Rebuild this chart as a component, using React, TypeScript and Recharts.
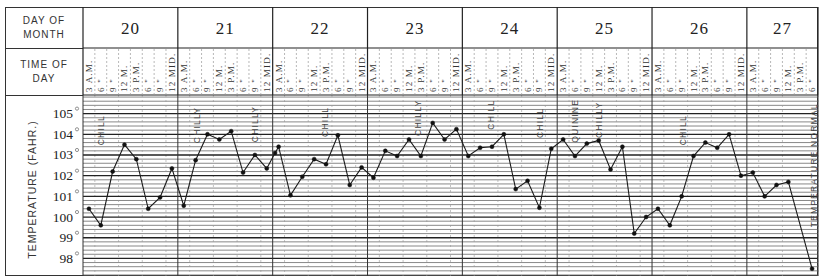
import { ComposedChart, Line, XAxis, YAxis, CartesianGrid, ReferenceLine, ReferenceDot, Label } from 'recharts'

const DAYS = [20, 21, 22, 23, 24, 25, 26, 27]
const SLOTS_PER_DAY = [8, 8, 8, 8, 8, 8, 8, 6]
const TIMES = ['3 A.M.', '6 "', '9 "', '12 M.', '3 P.M.', '6 "', '9 "', '12 MID.']
const TEMP_TICKS = [98, 99, 100, 101, 102, 103, 104, 105]

// one reading per 3-hour slot, null where nothing was taken
const TEMPS: (number | null)[] = [
  100.4, 99.6, 102.2, 103.5, 102.8, 100.4, 100.95, 102.35, // 20
  100.55, 102.75, 104.0, 103.75, 104.15, 102.15, 103.0, 102.35, // 21
  103.4, 101.05, 101.95, 102.8, 102.55, 103.95, 101.55, 102.4, // 22
  101.9, 103.2, 102.95, 103.75, 102.95, 104.55, 103.75, 104.25, // 23
  102.95, 103.35, 103.4, 104.0, 101.35, 101.75, 100.45, 103.3, // 24
  103.75, 102.95, 103.55, 103.7, 102.3, 103.4, 99.2, 100.0, // 25
  100.4, 99.6, 101.0, 102.95, 103.6, 103.35, 104.0, 102.0, // 26
  102.15, 101.0, 101.55, 101.7, null, 97.5, // 27
]

// reading taken just after midnight of the 21st
const EXTRA_READINGS = [{ pos: 16.2, temp: 103.1 }]

const NOTES = [
  { pos: 1.5, temp: 104.2, text: 'CHILL' },
  { pos: 9.6, temp: 104.45, text: 'CHILLY' },
  { pos: 14.5, temp: 104.5, text: 'CHILLY' },
  { pos: 20.4, temp: 104.6, text: 'CHILL' },
  { pos: 28.25, temp: 104.8, text: 'CHILLY' },
  { pos: 34.4, temp: 104.95, text: 'CHILL' },
  { pos: 38.55, temp: 104.55, text: 'CHILL' },
  { pos: 41.5, temp: 104.65, text: 'QUININE' },
  { pos: 43.5, temp: 104.7, text: 'CHILLY' },
  { pos: 50.6, temp: 104.2, text: 'CHILL' },
  { pos: 61.65, temp: 102.5, text: 'TEMPERATURE NORMAL' },
]

const SERIF = '"Liberation Serif", "DejaVu Serif", serif'
const SANS = '"Liberation Sans", Arial, sans-serif'
const DAY_ROW = 41
const TIME_ROW = 47

const readings = [
  ...TEMPS.map((temp, i) => ({ pos: i + 0.5, temp })),
  ...EXTRA_READINGS,
].sort((a, b) => a.pos - b.pos)

const totalSlots = SLOTS_PER_DAY.reduce((a, b) => a + b, 0)
const dayStarts = SLOTS_PER_DAY.map((_, i) => SLOTS_PER_DAY.slice(0, i).reduce((a, b) => a + b, 0))
const dayEdges = [...dayStarts, totalSlots]
const dayCenters = dayStarts.map((s, i) => s + SLOTS_PER_DAY[i] / 2)
const slotEdges = Array.from({ length: totalSlots + 1 }, (_, i) => i)
const slotCenters = Array.from({ length: totalSlots }, (_, i) => i + 0.5)

const minorTemps: number[] = []
for (let k = 486; k <= 529; k++) if (k % 5 !== 0) minorTemps.push(k / 5)

function DayTick({ x, y, payload }: any) {
  const i = dayCenters.indexOf(payload.value)
  if (i < 0) return <line x1={x} x2={x} y1={y} y2={y - DAY_ROW} stroke="#222" strokeWidth={1.2} />
  return (
    <text x={x} y={y - DAY_ROW / 2 + 1} textAnchor="middle" dominantBaseline="central"
      fontFamily={SERIF} fontSize={17} fill="#222" letterSpacing={1}>
      {DAYS[i]}
    </text>
  )
}

function TimeTick({ x, y, payload }: any) {
  const v = payload.value
  if (Number.isInteger(v)) {
    const isDay = dayEdges.includes(v)
    return (
      <line x1={x} x2={x} y1={y} y2={y - TIME_ROW} stroke={isDay ? '#222' : '#999'}
        strokeWidth={isDay ? 1.2 : 0.7} strokeDasharray={isDay ? undefined : '2 2'} />
    )
  }
  const slot = Math.floor(v)
  const day = dayStarts.findLastIndex((s) => s <= slot)
  const ty = y - 3
  return (
    <text x={x} y={ty} transform={`rotate(-90 ${x} ${ty})`} dominantBaseline="central"
      fontFamily={SERIF} fontSize={9} letterSpacing={1.2} fill="#333">
      {TIMES[slot - dayStarts[day]]}
    </text>
  )
}

function TempTick({ x, y, payload }: any) {
  return (
    <g>
      <text x={x - 10} y={y} textAnchor="end" dominantBaseline="central"
        fontFamily={SERIF} fontSize={13.5} fill="#222">
        {payload.value}
      </text>
      <circle cx={x - 6} cy={y - 5} r={1.6} fill="none" stroke="#666" strokeWidth={0.7} />
    </g>
  )
}

function NoteText({ cx, cy, text }: any) {
  return (
    <text x={cx} y={cy} transform={`rotate(-90 ${cx} ${cy})`} textAnchor="middle"
      dominantBaseline="central" fontFamily={SANS} fontSize={8.5} letterSpacing={1.2} fill="#444">
      {text}
    </text>
  )
}

const cell = (top: number, height: number, lines: string[]) => (
  <div style={{
    position: 'absolute', left: 5, top, width: 78, height, display: 'flex',
    flexDirection: 'column', justifyContent: 'center', alignItems: 'center',
    fontFamily: SANS, fontSize: 10, letterSpacing: 1, lineHeight: '14px', color: '#333',
  }}>
    {lines.map((l) => <div key={l}>{l}</div>)}
  </div>
)

export default function App() {
  return (
    <div style={{ position: 'fixed', left: 0, top: 0, width: 821, height: 279, background: '#fff' }}>
      <div style={{ position: 'absolute', left: 5, top: 7, width: 813, height: 269, border: '1px solid #333', boxSizing: 'border-box' }} />
      <div style={{ position: 'absolute', left: 5, top: 48, width: 78, borderTop: '1px solid #333' }} />
      <div style={{ position: 'absolute', left: 5, top: 95, width: 78, borderTop: '1px solid #333' }} />
      {cell(7, DAY_ROW, ['DAY OF', 'MONTH'])}
      {cell(48, TIME_ROW, ['TIME OF', 'DAY'])}
      <div style={{ position: 'absolute', left: 0, top: 0 }}>
        <ComposedChart width={821} height={279} data={readings}
          margin={{ top: 7, right: 3, bottom: 3, left: 5 }}>
          <XAxis xAxisId={0} dataKey="pos" type="number" domain={[0, totalSlots]} hide />
          <XAxis xAxisId="a_time" dataKey="pos" type="number" orientation="top" domain={[0, totalSlots]}
            height={TIME_ROW} ticks={[...slotEdges, ...slotCenters]} interval={0} tick={<TimeTick />}
            tickLine={false} tickSize={0} tickMargin={0} axisLine={{ stroke: '#222', strokeWidth: 1.2 }} />
          <XAxis xAxisId="b_day" dataKey="pos" type="number" orientation="top" domain={[0, totalSlots]}
            height={DAY_ROW} ticks={[...dayEdges, ...dayCenters]} interval={0} tick={<DayTick />}
            tickLine={false} tickSize={0} tickMargin={0} axisLine={{ stroke: '#222', strokeWidth: 1.2 }} />
          <YAxis type="number" domain={[97.15, 105.9]} ticks={TEMP_TICKS} width={78} interval={0}
            tick={<TempTick />} tickLine={false} tickSize={0} tickMargin={0} axisLine={false}>
            <Label content={(p: any) => {
              const vb = p.viewBox
              const cx = vb.x + 27
              const cy = vb.y + vb.height / 2 + 4
              return (
                <text x={cx} y={cy} transform={`rotate(-90 ${cx} ${cy})`} textAnchor="middle"
                  dominantBaseline="central" fontFamily={SANS} fontSize={10.5} letterSpacing={1} fill="#333">
                  TEMPERATURE (FAHR.)
                </text>
              )
            }} />
          </YAxis>
          <CartesianGrid vertical={false} horizontalValues={minorTemps} stroke="#6a6a6a" strokeWidth={0.8} />
          <CartesianGrid horizontal={false} verticalValues={slotEdges} stroke="#999" strokeWidth={0.6} strokeDasharray="2 3" />
          {TEMP_TICKS.map((t) => (
            <ReferenceLine key={t} y={t} stroke="#222" strokeWidth={1.3} />
          ))}
          {dayEdges.map((d) => (
            <ReferenceLine key={'d' + d} x={d} stroke="#333" strokeWidth={1} />
          ))}
          {NOTES.map((n, i) => (
            <ReferenceDot key={i} x={n.pos} y={n.temp} r={0}
              shape={(p: any) => <NoteText cx={p.cx} cy={p.cy} text={n.text} />} />
          ))}
          <Line dataKey="temp" type="linear" stroke="#1a1a1a" strokeWidth={1.1} connectNulls
            isAnimationActive={false}
            dot={{ r: 2, fill: '#111', stroke: '#111', strokeWidth: 0.5 }} />
        </ComposedChart>
      </div>
    </div>
  )
}
